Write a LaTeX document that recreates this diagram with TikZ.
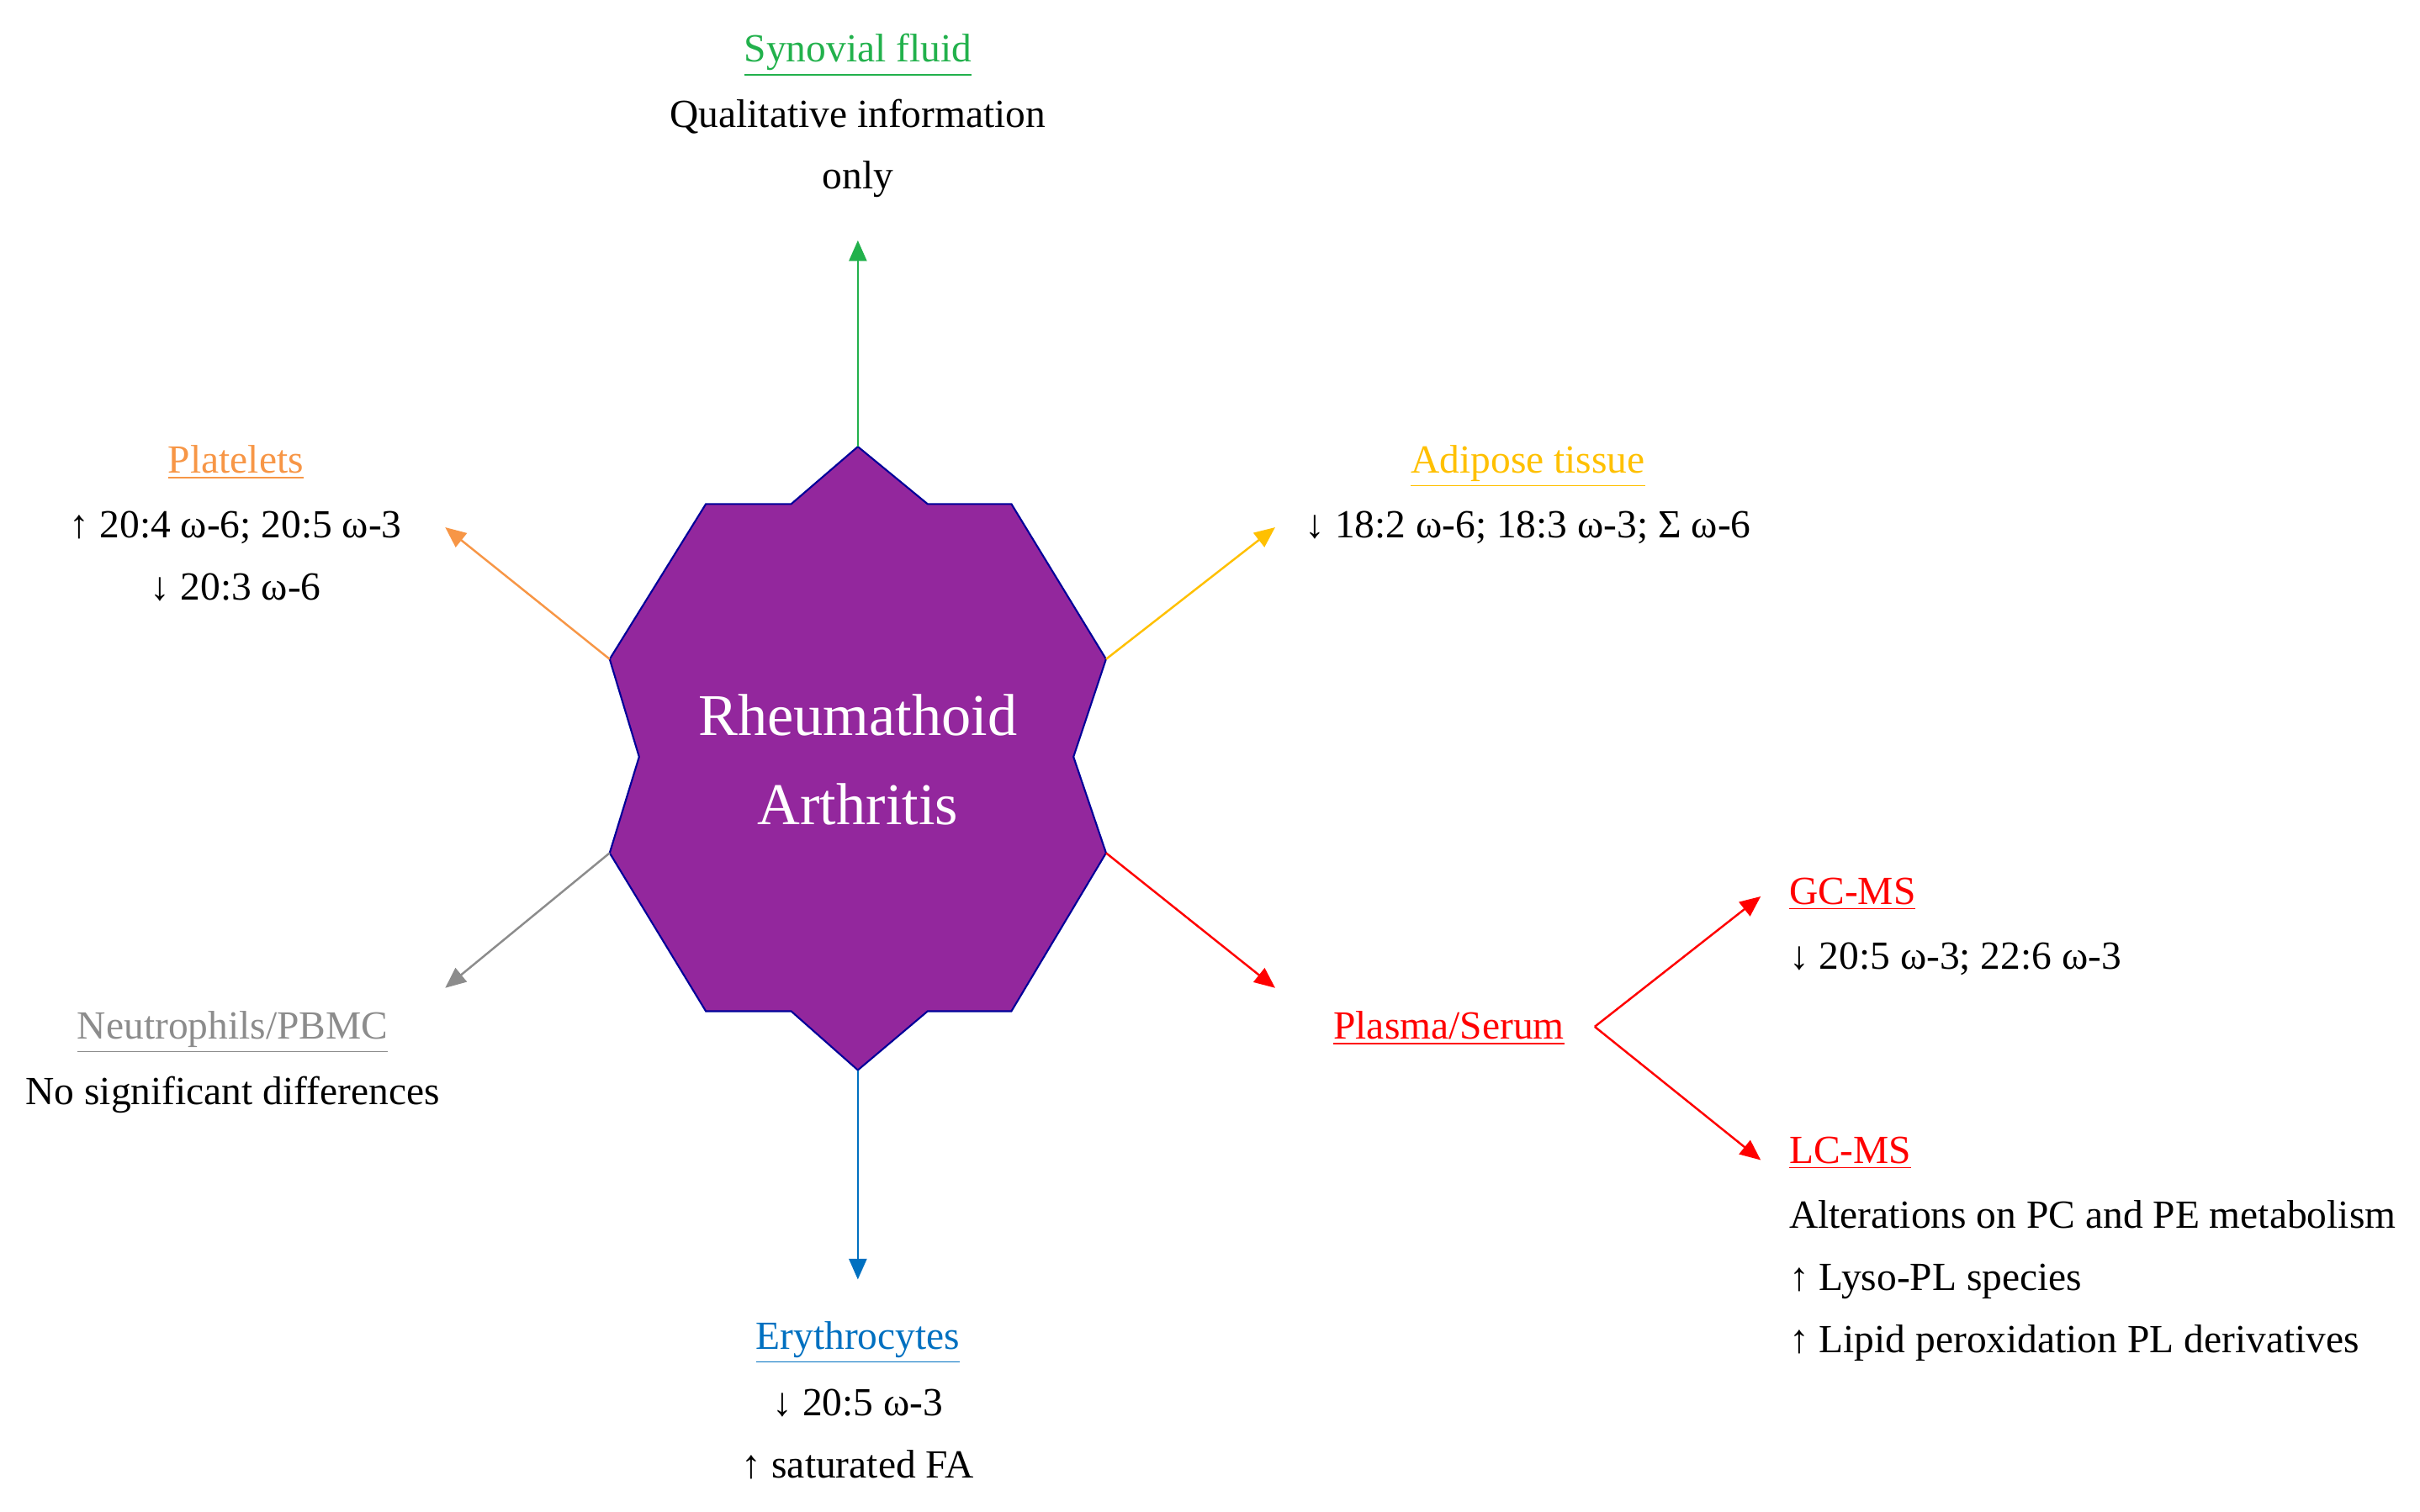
\documentclass[tikz,border=0pt]{standalone}
\usepackage{fontspec}
\setmainfont{Liberation Serif}
\usetikzlibrary{arrows.meta}
\definecolor{cgreen}{HTML}{22B14C}
\definecolor{corange}{HTML}{F79646}
\definecolor{cgold}{HTML}{FFC000}
\definecolor{cgray}{HTML}{8C8C8C}
\definecolor{cred}{HTML}{FF0000}
\definecolor{cblue}{HTML}{0070C0}
\definecolor{cpurple}{HTML}{93279D}
\tikzset{
 lab/.style={font=\fontsize{13.5pt}{16pt}\selectfont, inner sep=0pt, anchor=base},
 head/.style={lab, text=#1},
 conn/.style={draw=#1, line width=0.7pt, -{Triangle[length=7pt,width=6pt]}},
}
\newcommand{\ul}[1]{\underline{#1}}
\begin{document}
\begin{tikzpicture}[x=0.01844cm,y=-0.01844cm]
\useasboundingbox (0,0) rectangle (1560,974.4);
\fill[cpurple] (553,288)--(598,325)--(652,325)--(713,425)--(692,488)--(713,550)--(652,652)--(598,652)--(553,690)--(510,652)--(455,652)--(393,550)--(412,488)--(393,425)--(455,325)--(510,325)--cycle;
\draw[blue!60!black, line width=0.6pt] (553,288)--(598,325)--(652,325)--(713,425)--(692,488)--(713,550)--(652,652)--(598,652)--(553,690)--(510,652)--(455,652)--(393,550)--(412,488)--(393,425)--(455,325)--(510,325)--cycle;
\node[text=white, font=\fontsize{20pt}{30pt}\selectfont, align=center] (ra) at (553,490) {Rheumathoid\\Arthritis};
\coordinate (vt) at (553,288); \coordinate (vb) at (553,690);
\coordinate (vtl) at (393,425); \coordinate (vtr) at (713,425);
\coordinate (vbl) at (393,550); \coordinate (vbr) at (713,550);
\coordinate (et) at (553,155); \coordinate (eb) at (553,825);
\coordinate (etl) at (287,340); \coordinate (etr) at (822,340);
\coordinate (ebl) at (287,637); \coordinate (ebr) at (822,637);
\coordinate (ps) at (1028,662); \coordinate (gc) at (1135,578); \coordinate (lc) at (1135,748);
\draw[conn=cgreen] (vt)--(et);
\draw[conn=cblue] (vb)--(eb);
\draw[conn=corange] (vtl)--(etl);
\draw[conn=cgold] (vtr)--(etr);
\draw[conn=cgray] (vbl)--(ebl);
\draw[conn=cred] (vbr)--(ebr);
\draw[conn=cred] (ps)--(gc);
\draw[conn=cred] (ps)--(lc);
\node[head=cgreen] (syn) at (553,40) {\ul{Synovial fluid}};
\node[lab] (syn1) at (553,82) {Qualitative information};
\node[lab] (syn2) at (553,122) {only};
\node[head=corange] (pla) at (152,305) {\ul{Platelets}};
\node[lab] (pla1) at (152,347) {↑ 20:4 ω-6; 20:5 ω-3};
\node[lab] (pla2) at (152,387) {↓ 20:3 ω-6};
\node[head=cgold] (adi) at (985,305) {\ul{Adipose tissue}};
\node[lab] (adi1) at (985,347) {↓ 18:2 ω-6; 18:3 ω-3; Σ ω-6};
\node[head=cgray] (neu) at (150,670) {\ul{Neutrophils/PBMC}};
\node[lab] (neu1) at (150,712) {No significant differences};
\node[head=cred] (pls) at (934,670) {\ul{Plasma/Serum}};
\node[head=cred, anchor=base west] (gcm) at (1153,583) {\ul{GC-MS}};
\node[lab, anchor=base west] (gc1) at (1153,625) {↓ 20:5 ω-3; 22:6 ω-3};
\node[head=cred, anchor=base west] (lcm) at (1153,750) {\ul{LC-MS}};
\node[lab, anchor=base west] (lc1) at (1153,792) {Alterations on PC and PE metabolism};
\node[lab, anchor=base west] (lc2) at (1153,832) {↑ Lyso-PL species};
\node[lab, anchor=base west] (lc3) at (1153,872) {↑ Lipid peroxidation PL derivatives};
\node[head=cblue] (ery) at (553,870) {\ul{Erythrocytes}};
\node[lab] (ery1) at (553,913) {↓ 20:5 ω-3};
\node[lab] (ery2) at (553,953) {↑ saturated FA};
\end{tikzpicture}
\end{document}
